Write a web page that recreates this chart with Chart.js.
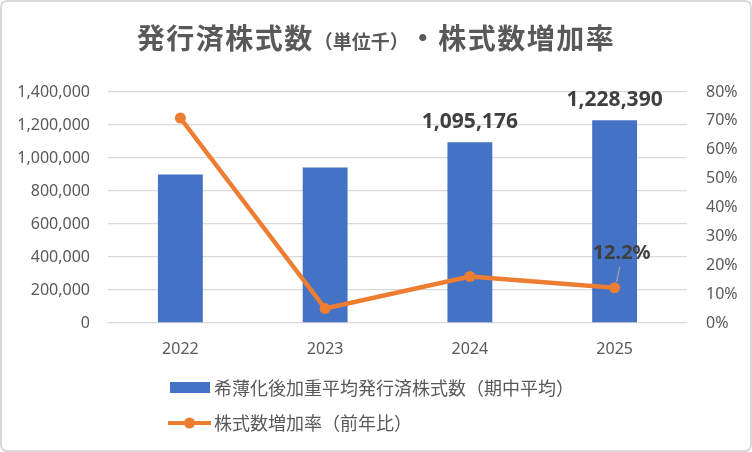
<!DOCTYPE html>
<html>
<head>
<meta charset="utf-8">
<script src="https://cdn.jsdelivr.net/npm/chart.js@4"></script>
<style>
  html, body { margin: 0; padding: 0; background: #fff; }
  #wrap { width: 752px; height: 452px; }
</style>
</head>
<body>
<div id="wrap"><canvas id="sharesChart" width="752" height="452"></canvas></div>
<script>
// data
const years = ['2022', '2023', '2024', '2025'];
const dilutedShares = [900000, 943000, 1095176, 1228390];   // 千株
const growthRate = [71.0, 5.0, 16.1, 12.2];                  // %
const barLabelShown = [false, false, true, true];
const rateLabelShown = [false, false, false, true];
const leftTicks = [0, 200000, 400000, 600000, 800000, 1000000, 1200000, 1400000];
const rightTicks = [0, 10, 20, 30, 40, 50, 60, 70, 80];

const barName = '希薄化後加重平均発行済株式数（期中平均）';
const lineName = '株式数増加率（前年比）';

const BLUE = '#4472C4';
const ORANGE = '#ED7D31';
const GREY = '#595959';
const CJK = '"Noto Sans CJK JP", "Noto Sans", sans-serif';

// white background + thin rounded frame
const framePlugin = {
    id: 'frame',
    beforeDraw(chart) {
        const ctx = chart.ctx;
        ctx.save();
        ctx.fillStyle = '#fff';
        ctx.fillRect(0, 0, chart.width, chart.height);
        ctx.strokeStyle = '#d9d9d9';
        ctx.lineWidth = 2;
        ctx.beginPath();
        ctx.roundRect(1, 1, chart.width - 2, chart.height - 2, 6);
        ctx.stroke();
        ctx.restore();
    }
};

// title with the smaller "(単位千)" part in the middle
const titlePlugin = {
    id: 'mixedTitle',
    afterDraw(chart) {
        const ctx = chart.ctx;
        const parts = [
            { text: '発行済株式数', size: 28, gap: '1.5px' },
            { text: '（単位千）', size: 19, gap: '0px' },
            { text: '・株式数増加率', size: 28, gap: '1.5px' }
        ];
        ctx.save();
        ctx.fillStyle = GREY;
        ctx.textBaseline = 'alphabetic';
        let total = 0;
        parts.forEach(p => {
            ctx.font = 'bold ' + p.size + 'px ' + CJK;
            ctx.letterSpacing = p.gap;
            p.w = ctx.measureText(p.text).width;
            total += p.w;
        });
        let x = 376 - total / 2;
        parts.forEach(p => {
            ctx.font = 'bold ' + p.size + 'px ' + CJK;
            ctx.letterSpacing = p.gap;
            ctx.fillText(p.text, x, 49);
            x += p.w;
        });
        ctx.restore();
    }
};

// value labels above the last two bars and on the last point
const valueLabelPlugin = {
    id: 'valueLabels',
    afterDatasetsDraw(chart) {
        const ctx = chart.ctx;
        ctx.save();
        ctx.fillStyle = '#404040';
        ctx.textAlign = 'center';
        ctx.textBaseline = 'middle';
        ctx.font = 'bold 21px "Noto Sans", sans-serif';
        chart.getDatasetMeta(0).data.forEach((bar, i) => {
            if (!barLabelShown[i]) return;
            ctx.fillText(dilutedShares[i].toLocaleString('en-US'), bar.x, bar.y - 20);
        });
        ctx.font = 'bold 20px "Noto Sans", sans-serif';
        chart.getDatasetMeta(1).data.forEach((pt, i) => {
            if (!rateLabelShown[i]) return;
            const lx = pt.x + 7, ly = pt.y - 34;
            ctx.fillText(growthRate[i].toFixed(1) + '%', lx, ly);
            ctx.strokeStyle = '#a6a6a6';
            ctx.lineWidth = 1.2;
            ctx.beginPath();
            ctx.moveTo(lx - 2, ly + 13);
            ctx.lineTo(pt.x + 2, pt.y - 6);
            ctx.stroke();
        });
        ctx.restore();
    }
};

// legend stacked in two rows under the axis
const legendPlugin = {
    id: 'stackedLegend',
    afterDraw(chart) {
        const ctx = chart.ctx;
        ctx.save();
        ctx.font = '18px ' + CJK;
        ctx.textBaseline = 'middle';
        ctx.fillStyle = BLUE;
        ctx.fillRect(170, 382, 40, 11);
        ctx.fillStyle = GREY;
        ctx.fillText(barName, 214, 388);
        ctx.strokeStyle = ORANGE;
        ctx.lineWidth = 4;
        ctx.beginPath();
        ctx.moveTo(168, 423);
        ctx.lineTo(211, 423);
        ctx.stroke();
        ctx.fillStyle = ORANGE;
        ctx.beginPath();
        ctx.arc(189.5, 423, 5.5, 0, Math.PI * 2);
        ctx.fill();
        ctx.fillStyle = GREY;
        ctx.fillText(lineName, 214, 423);
        ctx.restore();
    }
};

const data = {
    labels: years,
    datasets: [
        {
            type: 'bar',
            label: barName,
            data: dilutedShares,
            yAxisID: 'y',
            backgroundColor: BLUE,
            categoryPercentage: 1,
            barPercentage: 0.31,
            order: 1
        },
        {
            type: 'line',
            label: lineName,
            data: growthRate,
            yAxisID: 'y1',
            borderColor: ORANGE,
            backgroundColor: ORANGE,
            borderWidth: 4.5,
            pointRadius: 5.5,
            pointHoverRadius: 5.5,
            pointBackgroundColor: ORANGE,
            pointBorderWidth: 0,
            tension: 0,
            order: 0
        }
    ]
};

const config = {
    data: data,
    options: {
        responsive: false,
        animation: false,
        layout: { padding: { top: 92, bottom: 89, left: 0, right: 0 } },
        plugins: {
            legend: { display: false },
            title: { display: false },
            tooltip: { enabled: false }
        },
        scales: {
            x: {
                grid: { display: false },
                border: { display: false },
                ticks: { color: GREY, font: { family: '"Noto Sans", sans-serif', size: 16 }, padding: 9 },
                afterFit(scale) { scale.height = 40; }
            },
            y: {
                position: 'left',
                min: 0,
                max: 1400000,
                afterBuildTicks(scale) { scale.ticks = leftTicks.map(v => ({ value: v })); },
                grid: { color: '#d9d9d9', lineWidth: 1.3, drawTicks: false },
                border: { display: false },
                ticks: {
                    color: GREY,
                    padding: 18,
                    font: { family: '"Noto Sans", sans-serif', size: 16 },
                    callback: v => v.toLocaleString('en-US')
                },
                afterFit(scale) { scale.width = 108; }
            },
            y1: {
                position: 'right',
                min: 0,
                max: 80,
                afterBuildTicks(scale) { scale.ticks = rightTicks.map(v => ({ value: v })); },
                grid: { display: false, drawTicks: false },
                border: { display: false },
                ticks: {
                    color: GREY,
                    padding: 19,
                    font: { family: '"Noto Sans", sans-serif', size: 16 },
                    callback: v => v + '%'
                },
                afterFit(scale) { scale.width = 65; }
            }
        }
    },
    plugins: [framePlugin, titlePlugin, valueLabelPlugin, legendPlugin]
};

new Chart(document.getElementById('sharesChart').getContext('2d'), config);
</script>
</body>
</html>
